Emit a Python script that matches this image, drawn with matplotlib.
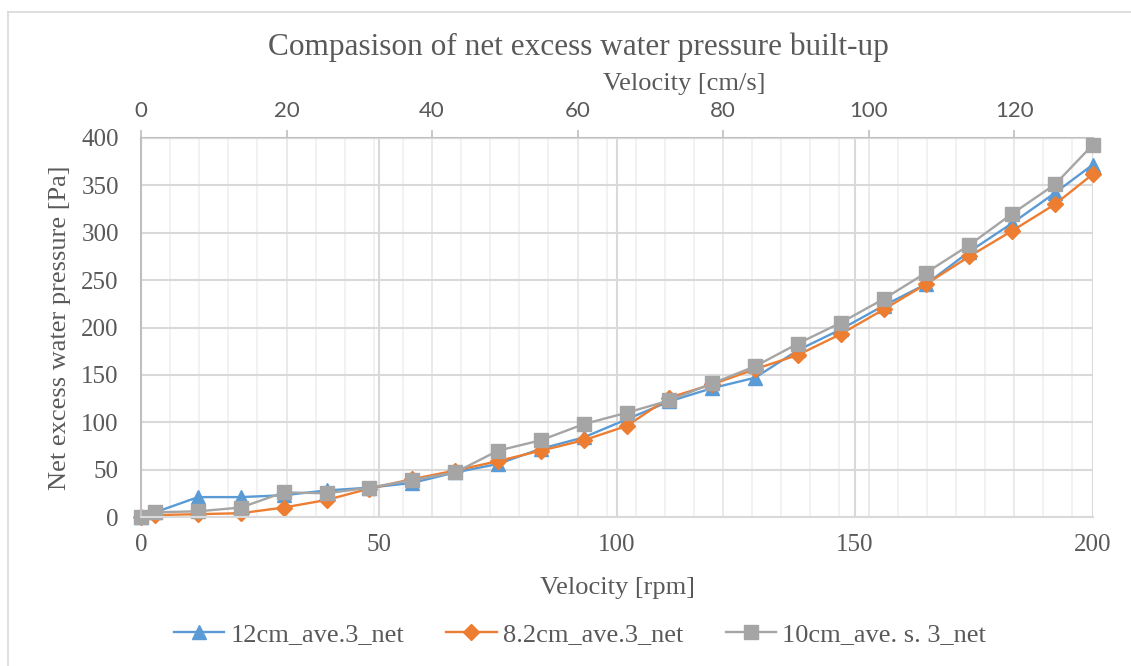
import matplotlib
matplotlib.use("Agg")
import matplotlib.pyplot as plt
from matplotlib.lines import Line2D
from matplotlib.ticker import MultipleLocator

# velocity in rpm for every measurement
rpm = [0, 3, 12, 21, 30, 39, 48, 57, 66, 75, 84, 93, 102, 111, 120, 129,
       138, 147, 156, 165, 174, 183, 192, 200]

# net excess water pressure [Pa]
p_12cm = [0, 5, 21, 21, 23, 28, 31, 36, 47, 56, 72, 84, 103, 122, 136, 147,
          176, 198, 223, 246, 280, 310, 342, 372]
p_82cm = [0, 2, 3, 4, 10, 18, 30, 40, 49, 59, 70, 81, 96, 126, 140, 156,
          171, 193, 219, 246, 275, 302, 330, 362]
p_10cm = [0, 5, 6, 10, 26, 25, 31, 39, 47, 70, 81, 98, 110, 123, 141, 159,
          183, 205, 230, 258, 287, 320, 351, 393]

labels = ["12cm_ave.3_net", "8.2cm_ave.3_net", "10cm_ave. s. 3_net"]
colors = ["#5B9BD5", "#ED7D31", "#A5A5A5"]
markers = ["^", "D", "s"]

# top axis range in cm/s (matches 200 rpm)
cms_max = 130.85

TXT = "#595959"
plt.rcParams["font.family"] = "Liberation Serif"

W, H = 1131, 666
fig = plt.figure(figsize=(W / 100, H / 100), dpi=100)
ax = fig.add_axes([141 / W, 1 - 517 / H, (1093 - 141) / W, (517 - 138) / H])
ax2 = ax.twiny()

# secondary axis sits below so its grid goes under the data
ax.set_zorder(ax2.get_zorder() + 1)
ax.patch.set_visible(False)

series = [p_12cm, p_82cm, p_10cm]
msizes = [10, 8.5, 9.5]
for ys, lab, c, m, ms in zip(series, labels, colors, markers, msizes):
    ax.plot(rpm, ys, color=c, lw=1.7, marker=m, ms=ms, label=lab,
            markeredgecolor=c, clip_on=False)

ax.set_xlim(0, 200)
ax.set_ylim(0, 400)
ax.xaxis.set_major_locator(MultipleLocator(50))
ax.yaxis.set_major_locator(MultipleLocator(50))
ax.grid(True, axis="both", color="#D9D9D9", lw=1.5)
ax.set_axisbelow(True)
ax.tick_params(axis="both", length=0, labelsize=18, colors=TXT)
ax.tick_params(axis="x", pad=12)
ax.tick_params(axis="y", pad=16)
for s in ["top", "right"]:
    ax.spines[s].set_visible(False)
ax.spines["left"].set_color("#BFBFBF")
ax.spines["left"].set_linewidth(1.5)
ax.spines["bottom"].set_color("#D9D9D9")
ax.spines["bottom"].set_linewidth(1.5)

ax.set_xlabel("Velocity [rpm]", fontsize=19, color=TXT)
ax.xaxis.label.set_va("center")
ax.xaxis.set_label_coords(0.5, -(588 - 517) / 379)
ax.set_ylabel("Net excess water pressure [Pa]", fontsize=19, color=TXT)
ax.yaxis.label.set_va("center")
ax.yaxis.set_label_coords((60 - 141) / 952, 0.5)

ax2.set_xlim(0, cms_max)
ax2.xaxis.set_major_locator(MultipleLocator(20))
ax2.xaxis.set_minor_locator(MultipleLocator(4))
ax2.grid(True, which="major", axis="x", color="#E6E6E6", lw=1.2)
ax2.grid(True, which="minor", axis="x", color="#F0F0F0", lw=1.2)
ax2.tick_params(axis="x", which="major", length=6, width=1.2, color="#BFBFBF",
                labelsize=16, labelcolor=TXT, pad=6)
ax2.tick_params(axis="x", which="minor", length=0)
for t in ax2.get_xticklabels():
    t.set_family("Lato")
for s in ["bottom", "left", "right"]:
    ax2.spines[s].set_visible(False)
ax2.spines["top"].set_color("#BFBFBF")
ax2.spines["top"].set_linewidth(1.5)

fig.text(684 / W, 1 - 84 / H, "Velocity [cm/s]", fontsize=19, color=TXT,
         ha="center", va="center")
fig.text(578 / W, 1 - 47 / H, "Compasison of net excess water pressure built-up",
         fontsize=22.5, color=TXT, ha="center", va="center")

handles, labs = ax.get_legend_handles_labels()
fig.legend(handles, labs, loc="center", bbox_to_anchor=(580 / W, 1 - 634 / H),
           ncol=3, frameon=False, fontsize=19, labelcolor=TXT,
           handlelength=1.9, handletextpad=0.25, columnspacing=1.6)

# chart-area border (left and top edges only are in view)
fig.add_artist(Line2D([8 / W, 8 / W], [0, 1 - 12 / H], color="#D9D9D9", lw=1.2))
fig.add_artist(Line2D([8 / W, 1], [1 - 12 / H, 1 - 12 / H], color="#D9D9D9", lw=1.2))

fig.savefig("out.png", dpi=100)
